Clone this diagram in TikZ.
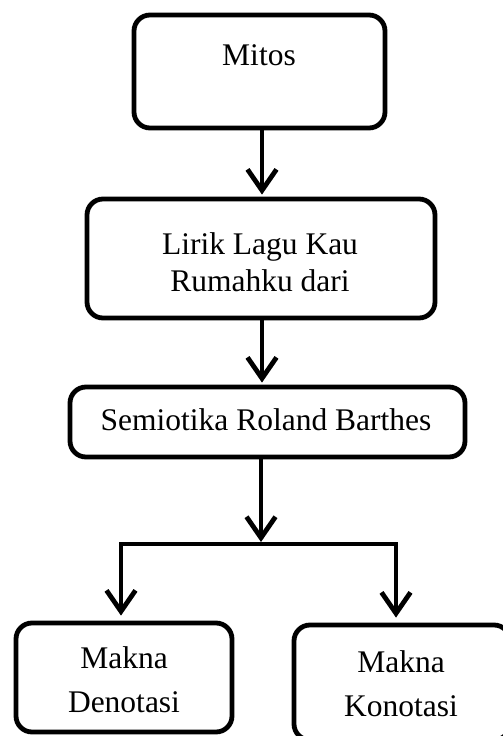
\documentclass[tikz,border=0pt]{standalone}
\usepackage{fontspec}
\setmainfont{Liberation Serif}
\usetikzlibrary{arrows.meta}
\begin{document}
\begin{tikzpicture}[x=1pt,y=-1pt,
  box/.style={draw, line width=4.8pt, rounded corners=16pt, inner sep=0pt},
  lbl/.style={anchor=base, inner sep=0pt, font=\fontsize{31.5}{37}\selectfont},
  lbltall/.style={anchor=base, inner sep=0pt, font=\fontsize{31.5}{44}\selectfont},
  tip/.tip={Straight Barb[length=21pt,width=29pt]},
  arr/.style={line width=4.8pt, -tip, shorten >=2pt},
  arrtwo/.style={line width=4.8pt, tip-tip, shorten >=5pt, shorten <=5pt, line join=miter}]
\useasboundingbox (0,0) rectangle (503,736);
\clip (0,0) rectangle (503,736);
% boxes
\node[box, minimum width=251pt, minimum height=113pt] (mitos) at (259.5,71.5) {};
\node[box, minimum width=348pt, minimum height=119pt] (lirik) at (261,258.5) {};
\node[box, minimum width=395pt, minimum height=70pt] (semi) at (267.5,422) {};
\node[box, minimum width=216pt, minimum height=109pt] (den) at (124,677.5) {};
\node[box, minimum width=216pt, minimum height=115pt] (kon) at (402,682.5) {};
% labels
\node[lbl] (tmitos) at (259,65) {Mitos};
\node[lbl] (tlirik) at (260,254) {\begin{tabular}[t]{@{}c@{}}Lirik Lagu Kau\\Rumahku dari\end{tabular}};
\node[lbl] (tsemi) at (266,430) {Semiotika Roland Barthes};
\node[lbltall] (tden) at (124,668) {\begin{tabular}[t]{@{}c@{}}Makna\\Denotasi\end{tabular}};
\node[lbltall] (tkon) at (401,672) {\begin{tabular}[t]{@{}c@{}}Makna\\Konotasi\end{tabular}};
% connectors
\coordinate (ax) at (262,0);
\coordinate (j) at (261,544);
\coordinate (jl) at (121,544);
\coordinate (jr) at (396,544);
\draw[arr] (mitos.south -| ax) -- (lirik.north -| ax);
\draw[arr] (lirik.south -| ax) -- (semi.north -| ax);
\draw[arr] (semi.south -| j) -- (j);
\draw[arrtwo] (den.north -| jl) -- (jl) -- (jr) -- (kon.north -| jr);
\end{tikzpicture}
\end{document}
